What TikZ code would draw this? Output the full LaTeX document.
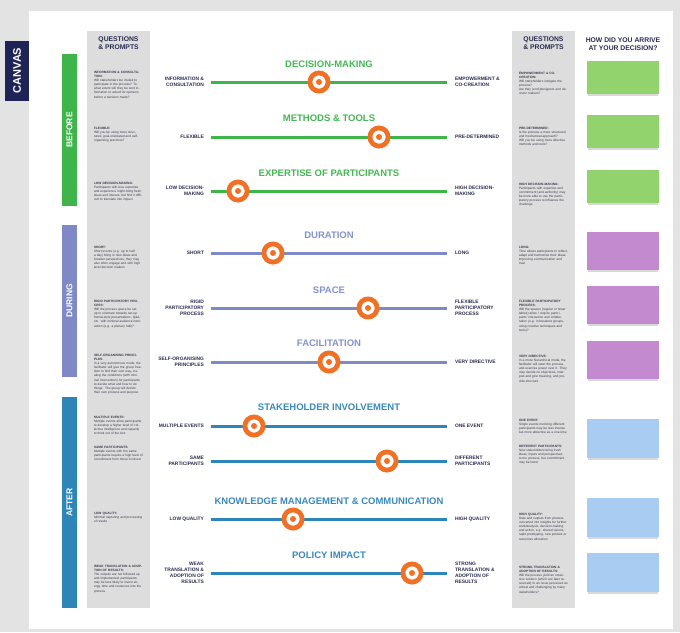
\documentclass[tikz,border=0pt]{standalone}
\usepackage{fontspec}
\setmainfont{Liberation Sans}
\usetikzlibrary{shadows}
\definecolor{navy}{HTML}{1F2456}
\definecolor{lblnavy}{HTML}{2A2D50}
\definecolor{qgray}{HTML}{3A3A4C}
\definecolor{grn}{HTML}{3DB54A}
\definecolor{grnt}{HTML}{47B755}
\definecolor{lav}{HTML}{7E89C6}
\definecolor{lavt}{HTML}{8592CC}
\definecolor{teal}{HTML}{2E86B8}
\definecolor{tealt}{HTML}{3A89BC}
\definecolor{knoborange}{HTML}{F07126}
\definecolor{colgray}{HTML}{DDDDDD}
\definecolor{bggray}{HTML}{E3E3E3}
\definecolor{stgreen}{HTML}{92D36E}
\definecolor{stpurple}{HTML}{C38AD0}
\definecolor{stblue}{HTML}{A8CCF2}
% name, y, knob x, colour, left label, right label
\newcommand\sldr[6]{%
  \coordinate (#1L) at (211,#2);
  \coordinate (#1R) at (447,#2);
  \draw[sliderline,#4] (#1L) -- (#1R);
  \node[lbl,anchor=east,align=right] (#1ll) at (204,#2) {#5};
  \node[lbl,anchor=west,align=left] (#1rl) at (455,#2) {#6};
  \node[knob] (#1k) at (#3,#2) {};
  \node[knobdot] (#1d) at (#1k) {};
}
\begin{document}
\begin{tikzpicture}[x=1pt,y=-1pt,
  every node/.style={inner sep=0pt, outer sep=0pt},
  sliderline/.style={line width=3pt},
  lbl/.style={font=\fontsize{4.9}{6.1}\selectfont\bfseries, text=lblnavy},
  ttl/.style={font=\fontsize{9.5}{10.5}\selectfont\bfseries},
  knob/.style={circle, draw=knoborange, line width=4.8pt, fill=white, minimum size=18.2pt},
  knobdot/.style={circle, fill=knoborange, minimum size=6pt},
  qtext/.style={font=\fontsize{3.2}{4.15}\selectfont, text=qgray, text width=49pt, align=left, anchor=north west},
  head/.style={font=\fontsize{6.8}{7.8}\selectfont\bfseries, text=lblnavy, align=center},
  phase/.style={font=\fontsize{8.5}{9}\selectfont\bfseries, text=white, rotate=90},
  note/.style={minimum width=72pt, drop shadow={shadow xshift=0pt, shadow yshift=-2pt, opacity=0.3, shadow scale=0.98}}
]
\useasboundingbox (0,0) rectangle (680,632);
\fill[bggray] (0,0) rectangle (680,632);
\fill[white] (29,11) rectangle (673,629);

% CANVAS tag
\node[fill=navy, minimum width=24pt, minimum height=60pt] (canvas) at (17,70.5) {};
\node[font=\fontsize{11}{12}\selectfont\bfseries, text=white, rotate=90] (canvast) at (canvas) {CANVAS};

% phase bars
\node[fill=grn, minimum width=15pt, minimum height=152pt] (before) at (69.5,130) {};
\node[phase] (beforet) at (before) {BEFORE};
\node[fill=lav, minimum width=15pt, minimum height=152pt] (during) at (69.5,301) {};
\node[phase] (duringt) at (during) {DURING};
\node[fill=teal, minimum width=15pt, minimum height=211pt] (after) at (69.5,502.5) {};
\node[phase] (aftert) at (after) {AFTER};

% question columns
\node[fill=colgray, minimum width=63pt, minimum height=577pt] (lcol) at (118.5,319.5) {};
\node[fill=colgray, minimum width=63pt, minimum height=577pt] (rcol) at (543.5,319.5) {};
\node[head] (lhead) at (118.5,43) {QUESTIONS\\\& PROMPTS};
\node[head] (rhead) at (543.5,43) {QUESTIONS\\\& PROMPTS};
\node[head] (shead) at (623,44) {HOW DID YOU ARRIVE\\AT YOUR DECISION?};

% left texts
\node[qtext] (l1) at (94,71) {\textbf{INFORMATION \& CONSULTATION:}\\Will stakeholders be invited to participate in the process? To what extent will they be sent information or asked for opinions before a decision made?};
\node[qtext] (l2) at (94,127) {\textbf{FLEXIBLE:}\\Will you be using more structured, goal-orientated and self-organising practices?};
\node[qtext] (l3) at (94,182) {\textbf{LOW DECISION-MAKING:}\\Participants with less expertise and experience might bring fresh ideas and interest, but find it difficult to translate into impact};
\node[qtext] (l4) at (94,246) {\textbf{SHORT:}\\Short events (e.g. up to half a day) bring in new ideas and broader perspectives; they may also often engage and with high level decision makers};
\node[qtext] (l5) at (94,300) {\textbf{RIGID PARTICIPATORY PROCESS:}\\Will the process space be set up to orientate towards set-up frontal-style presentations, Q\&A, etc. with minimal audience interaction (e.g. a plenary hall)?};
\node[qtext] (l6) at (94,354) {\textbf{SELF-ORGANISING PRINCIPLES:}\\In a very autonomous mode, the facilitator will give the group freedom to find their own way, creating the conditions (with minimal intervention) for participants to decide what and how to do things. The group will decide their own process and purpose};
\node[qtext] (l7) at (94,416) {\textbf{MULTIPLE EVENTS:}\\Multiple events allow participants to develop a higher level of collective intelligence and capacity to think out of the box};
\node[qtext] (l7b) at (94,446) {\textbf{SAME PARTICIPANTS:}\\Multiple events with the same participants require a high level of commitment from those involved};
\node[qtext] (l8) at (94,512) {\textbf{LOW QUALITY:}\\Minimal capturing and processing of results};
\node[qtext] (l9) at (94,565) {\textbf{WEAK TRANSLATION \& ADOPTION OF RESULTS:}\\The outputs are not followed up and implemented; participants may be less likely to invest energy, time and resources into the process};

% right texts
\node[qtext] (r1) at (519,72) {\textbf{EMPOWERMENT \& CO-CREATION:}\\Will stakeholders instigate the process?\\Are they (end-)designers and decision makers?};
\node[qtext] (r2) at (519,127) {\textbf{PRE-DETERMINED:}\\Is the process a more structured and mechanical approach?\\Will you be using more directive methods and tools?};
\node[qtext] (r3) at (519,183) {\textbf{HIGH DECISION-MAKING:}\\Participants with expertise and commitment (and authority) may be more able to use the participatory process to influence the challenge};
\node[qtext] (r4) at (519,246) {\textbf{LONG:}\\Time allows participants to reflect, adapt and harmonise their ideas, improving communication and trust};
\node[qtext] (r5) at (519,300) {\textbf{FLEXIBLE PARTICIPATORY PROCESS:}\\Will the spaces (regular or fewer tables) allow / require participants' interaction and collaboration (e.g. in breakout groups, using creative techniques and tools)?};
\node[qtext] (r6) at (519,355) {\textbf{VERY DIRECTIVE:}\\In a more hierarchical mode, the facilitator will steer the process, and exercise power over it. They may decide on objectives, interpret and give meaning, and provide structure};
\node[qtext] (r7) at (519,419) {\textbf{ONE EVENT:}\\Single events involving different participants may be less intense but more attractive as a one-time};
\node[qtext] (r7b) at (519,445) {\textbf{DIFFERENT PARTICIPANTS:}\\New stakeholders bring fresh ideas, inputs and perspectives to the process, but commitment may be lower};
\node[qtext] (r8) at (519,513) {\textbf{HIGH QUALITY:}\\Data and outputs from process converted into insights for further work/analysis, decision-making and action, e.g. shared visions, rapid prototyping, new policies or resources allocation};
\node[qtext] (r9) at (519,566) {\textbf{STRONG TRANSLATION \& ADOPTION OF RESULTS:}\\Will the process yield an extensive solution (which are later resourced) to an issue perceived as critical and challenging by many stakeholders?};

% sticky notes
\node[note, fill=stgreen, minimum height=33pt] (n1) at (623,77.5) {};
\node[note, fill=stgreen, minimum height=33pt] (n2) at (623,131.5) {};
\node[note, fill=stgreen, minimum height=33pt] (n3) at (623,186.5) {};
\node[note, fill=stpurple, minimum height=38pt] (n4) at (623,251) {};
\node[note, fill=stpurple, minimum height=38pt] (n5) at (623,305) {};
\node[note, fill=stpurple, minimum height=38pt] (n6) at (623,360) {};
\node[note, fill=stblue, minimum height=39pt] (n7) at (623,438.5) {};
\node[note, fill=stblue, minimum height=39pt] (n8) at (623,517.5) {};
\node[note, fill=stblue, minimum height=39pt] (n9) at (623,572.5) {};

% titles
\node[ttl, text=grnt] (t1) at (329,64) {DECISION-MAKING};
\node[ttl, text=grnt] (t2) at (329,118) {METHODS \& TOOLS};
\node[ttl, text=grnt] (t3) at (329,173) {EXPERTISE OF PARTICIPANTS};
\node[ttl, text=lavt] (t4) at (329,235) {DURATION};
\node[ttl, text=lavt] (t5) at (329,290) {SPACE};
\node[ttl, text=lavt] (t6) at (329,343) {FACILITATION};
\node[ttl, text=tealt] (t7) at (329,407) {STAKEHOLDER INVOLVEMENT};
\node[ttl, text=tealt] (t8) at (329,501) {KNOWLEDGE MANAGEMENT \& COMMUNICATION};
\node[ttl, text=tealt] (t9) at (329,555) {POLICY IMPACT};

% sliders
\sldr{s1}{82}{319}{grn}{INFORMATION \&\\CONSULTATION}{EMPOWERMENT \&\\CO-CREATION}
\sldr{s2}{137}{379}{grn}{FLEXIBLE}{PRE-DETERMINED}
\sldr{s3}{191}{238}{grn}{LOW DECISION-\\MAKING}{HIGH DECISION-\\MAKING}
\sldr{s4}{253}{273}{lav}{SHORT}{LONG}
\sldr{s5}{308}{368}{lav}{RIGID\\PARTICIPATORY\\PROCESS}{FLEXIBLE\\PARTICIPATORY\\PROCESS}
\sldr{s6}{362}{329}{lav}{SELF-ORGANISING\\PRINCIPLES}{VERY DIRECTIVE}
\sldr{s7}{426}{254}{teal}{MULTIPLE EVENTS}{ONE EVENT}
\sldr{s8}{461}{387}{teal}{SAME\\PARTICIPANTS}{DIFFERENT\\PARTICIPANTS}
\sldr{s9}{519}{293}{teal}{LOW QUALITY}{HIGH QUALITY}
\sldr{s10}{573}{412}{teal}{WEAK\\TRANSLATION \&\\ADOPTION OF\\RESULTS}{STRONG\\TRANSLATION \&\\ADOPTION OF\\RESULTS}
\end{tikzpicture}
\end{document}
